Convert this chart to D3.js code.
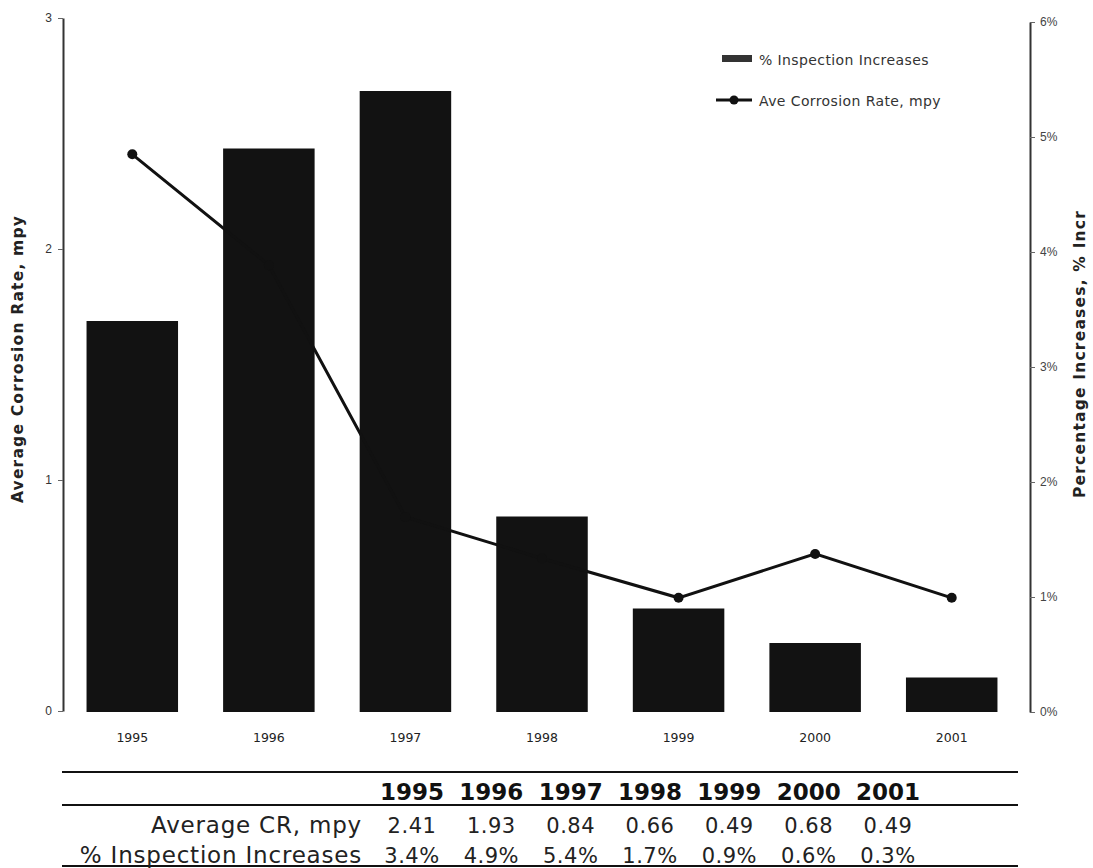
<!DOCTYPE html>
<html><head><meta charset="utf-8">
<script src="https://cdn.jsdelivr.net/npm/d3@7"></script>
<style>
html,body{margin:0;padding:0;background:#fff;}
svg{display:block;font-family:"DejaVu Sans",Verdana,sans-serif;}
</style></head>
<body><svg id="c" width="1093" height="868"></svg>
<script>
const years = ["1995","1996","1997","1998","1999","2000","2001"];
const corrosionRate = [2.41, 1.93, 0.84, 0.66, 0.49, 0.68, 0.49];
const inspectionIncrease = [3.4, 4.9, 5.4, 1.7, 0.9, 0.6, 0.3];
const leftTicks = [0, 1, 2, 3];
const rightTicks = [0, 1, 2, 3, 4, 5, 6];
const rowLabels = ["Average CR, mpy", "% Inspection Increases"];
const legendLabels = ["% Inspection Increases", "Ave Corrosion Rate, mpy"];

const svg = d3.select("#c");
const x = d3.scaleBand().domain(years).range([64, 1020]).paddingInner(0.33).paddingOuter(0.165);
const yL = d3.scaleLinear().domain([0, 3]).range([711, 18]);
const yR = d3.scaleLinear().domain([0, 6]).range([712, 22]);

// bars
svg.append("g").selectAll("rect").data(years).join("rect")
  .attr("x", d => x(d)).attr("width", x.bandwidth())
  .attr("y", (d, i) => yR(inspectionIncrease[i]))
  .attr("height", (d, i) => yR(0) - yR(inspectionIncrease[i]))
  .attr("fill", "#121212");

// line
const pts = years.map((d, i) => [x(d) + x.bandwidth() / 2, yL(corrosionRate[i])]);
svg.append("path").attr("d", d3.line()(pts)).attr("fill", "none").attr("stroke", "#111").attr("stroke-width", 3);
svg.append("g").selectAll("circle").data(pts).join("circle")
  .attr("cx", d => d[0]).attr("cy", d => d[1]).attr("r", 5).attr("fill", "#111");

// left axis
const gl = svg.append("g").attr("transform", "translate(63,0)")
  .call(d3.axisLeft(yL).tickValues(leftTicks).tickFormat(d3.format("d")).tickSize(5).tickSizeOuter(0));
gl.select(".domain").attr("stroke", "#333").attr("stroke-width", 2);
gl.selectAll(".tick line").attr("stroke", "#666");
gl.selectAll(".tick text").attr("font-size", 12).attr("fill", "#333").attr("x", -11);

// right axis
const gr = svg.append("g").attr("transform", "translate(1030,0)")
  .call(d3.axisRight(yR).tickValues(rightTicks).tickFormat(d => d + "%").tickSize(5).tickSizeOuter(0));
gr.select(".domain").attr("stroke", "#333").attr("stroke-width", 2);
gr.selectAll(".tick line").attr("stroke", "#666");
gr.selectAll(".tick text").attr("font-size", 12).attr("fill", "#444").attr("x", 10);

// x labels
svg.append("g").selectAll("text").data(years).join("text")
  .attr("x", d => x(d) + x.bandwidth() / 2).attr("y", 742)
  .attr("text-anchor", "middle").attr("font-size", 12.5).attr("fill", "#222").text(d => d);

// axis titles
svg.append("text").attr("transform", "translate(23,359) rotate(-90)")
  .attr("text-anchor", "middle").attr("font-size", 15.5).attr("letter-spacing", 1.2).attr("font-weight", "bold").attr("fill", "#222")
  .text("Average Corrosion Rate, mpy");
svg.append("text").attr("transform", "translate(1085,354) rotate(-90)")
  .attr("text-anchor", "middle").attr("font-size", 15.5).attr("letter-spacing", 1.2).attr("font-weight", "bold").attr("fill", "#222")
  .text("Percentage Increases, % Incr");

// legend
const lg = svg.append("g");
lg.append("rect").attr("x", 722).attr("y", 55).attr("width", 30).attr("height", 7).attr("fill", "#333");
lg.append("line").attr("x1", 716).attr("x2", 752).attr("y1", 100).attr("y2", 100).attr("stroke", "#111").attr("stroke-width", 3);
lg.append("circle").attr("cx", 734).attr("cy", 100).attr("r", 4.5).attr("fill", "#111");
lg.selectAll("text.lt").data(legendLabels).join("text").attr("class", "lt")
  .attr("x", 759).attr("y", (d, i) => 65 + i * 41).attr("font-size", 14).attr("letter-spacing", 0.4).attr("fill", "#333").text(d => d);

// table
const col = d3.scalePoint().domain(years).range([412, 888]);
const tb = svg.append("g");
[772, 805, 866].forEach(yy => tb.append("line").attr("x1", 62).attr("x2", 1018).attr("y1", yy).attr("y2", yy).attr("stroke", "#111").attr("stroke-width", 2));
tb.selectAll("text.h").data(years).join("text").attr("class", "h")
  .attr("x", d => col(d)).attr("y", 800).attr("text-anchor", "middle")
  .attr("font-size", 23).attr("font-weight", "bold").attr("fill", "#111").text(d => d);
tb.selectAll("text.r").data(rowLabels).join("text").attr("class", "r")
  .attr("x", 362).attr("y", (d, i) => 833 + i * 30).attr("text-anchor", "end")
  .attr("font-size", 23).attr("letter-spacing", 0.8).attr("fill", "#222").text(d => d);
tb.selectAll("text.v1").data(years).join("text").attr("class", "v1")
  .attr("x", d => col(d)).attr("y", 833).attr("text-anchor", "middle")
  .attr("font-size", 21).attr("letter-spacing", 0.5).attr("fill", "#222").text((d, i) => corrosionRate[i].toFixed(2));
tb.selectAll("text.v2").data(years).join("text").attr("class", "v2")
  .attr("x", d => col(d)).attr("y", 863).attr("text-anchor", "middle")
  .attr("font-size", 21).attr("letter-spacing", 0.5).attr("fill", "#222").text((d, i) => inspectionIncrease[i].toFixed(1) + "%");
</script></body></html>
